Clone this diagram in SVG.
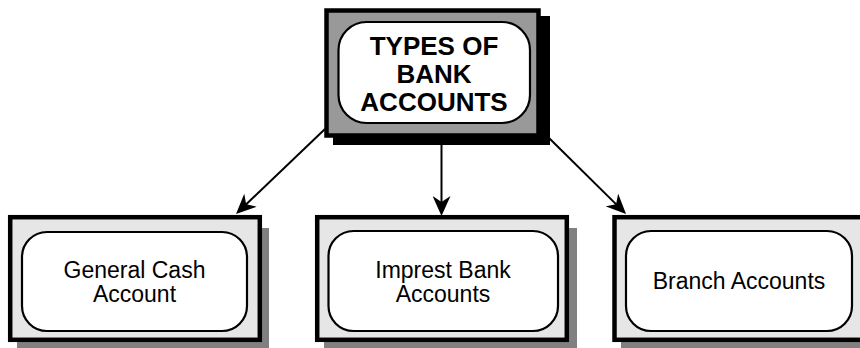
<svg xmlns="http://www.w3.org/2000/svg" width="860" height="348" viewBox="0 0 860 348">
  <style>
    .frame { stroke: #000; stroke-width: 4.5; }
    .sub-frame { fill: #e6e6e6; }
    .sub-shadow { fill: #808080; }
    .pill { fill: #fff; stroke: #000; stroke-width: 2.2; }
    .title { font-family: "Liberation Sans", Arial, sans-serif; font-weight: bold; font-size: 26px; fill: #000; text-anchor: middle; }
    .label { font-family: "Liberation Sans", Arial, sans-serif; font-size: 23px; fill: #000; text-anchor: middle; }
    .link { stroke: #000; stroke-width: 2; fill: none; marker-end: url(#arrow); }
  </style>
  <defs>
    <marker id="arrow" viewBox="0 0 20 18" refX="8" refY="9" markerWidth="20" markerHeight="18" markerUnits="userSpaceOnUse" orient="auto">
      <path d="M0,0 L20,9 L0,18 L6,9 Z" fill="#000"/>
    </marker>
  </defs>
  <rect width="860" height="348" fill="#fff"/>

  <!-- connectors -->
  <g id="connectors">
    <line class="link" x1="325" y1="129" x2="244.7" y2="205.7"/>
    <line class="link" x1="441.5" y1="145" x2="441.5" y2="204"/>
    <line class="link" x1="549" y1="138" x2="617.5" y2="205.6"/>
  </g>

  <!-- root -->
  <g id="types-of-bank-accounts">
    <rect x="333" y="16" width="217" height="129" fill="#000"/>
    <rect class="frame" x="326.5" y="10.5" width="212" height="125" fill="#999"/>
    <rect class="pill" x="338.5" y="22" width="191.5" height="101" rx="28" ry="28"/>
    <text class="title" x="434" y="55">TYPES OF</text>
    <text class="title" x="434" y="83">BANK</text>
    <text class="title" x="434" y="110.5">ACCOUNTS</text>
  </g>

  <!-- children -->
  <g id="general-cash-account">
    <rect class="sub-shadow" x="17" y="228" width="252" height="120"/>
    <rect class="frame sub-frame" x="10.2" y="217.2" width="249.6" height="122.6"/>
    <rect class="pill" x="22" y="232" width="225" height="99" rx="25" ry="25"/>
    <text class="label" x="134.5" y="277.5">General Cash</text>
    <text class="label" x="134.5" y="301.5">Account</text>
  </g>

  <g id="imprest-bank-accounts">
    <rect class="sub-shadow" x="324" y="228" width="253" height="120"/>
    <rect class="frame sub-frame" x="317.2" y="217.2" width="249.6" height="122.6"/>
    <rect class="pill" x="328.5" y="231" width="229.5" height="100" rx="25" ry="25"/>
    <text class="label" x="443" y="277.5">Imprest Bank</text>
    <text class="label" x="443" y="301.5">Accounts</text>
  </g>

  <g id="branch-accounts">
    <rect class="sub-shadow" x="621" y="228" width="253" height="120"/>
    <rect class="frame sub-frame" x="614.5" y="217.2" width="249.6" height="122.6"/>
    <rect class="pill" x="626" y="231" width="226" height="100" rx="25" ry="25"/>
    <text class="label" x="739" y="288.5">Branch Accounts</text>
  </g>
</svg>
